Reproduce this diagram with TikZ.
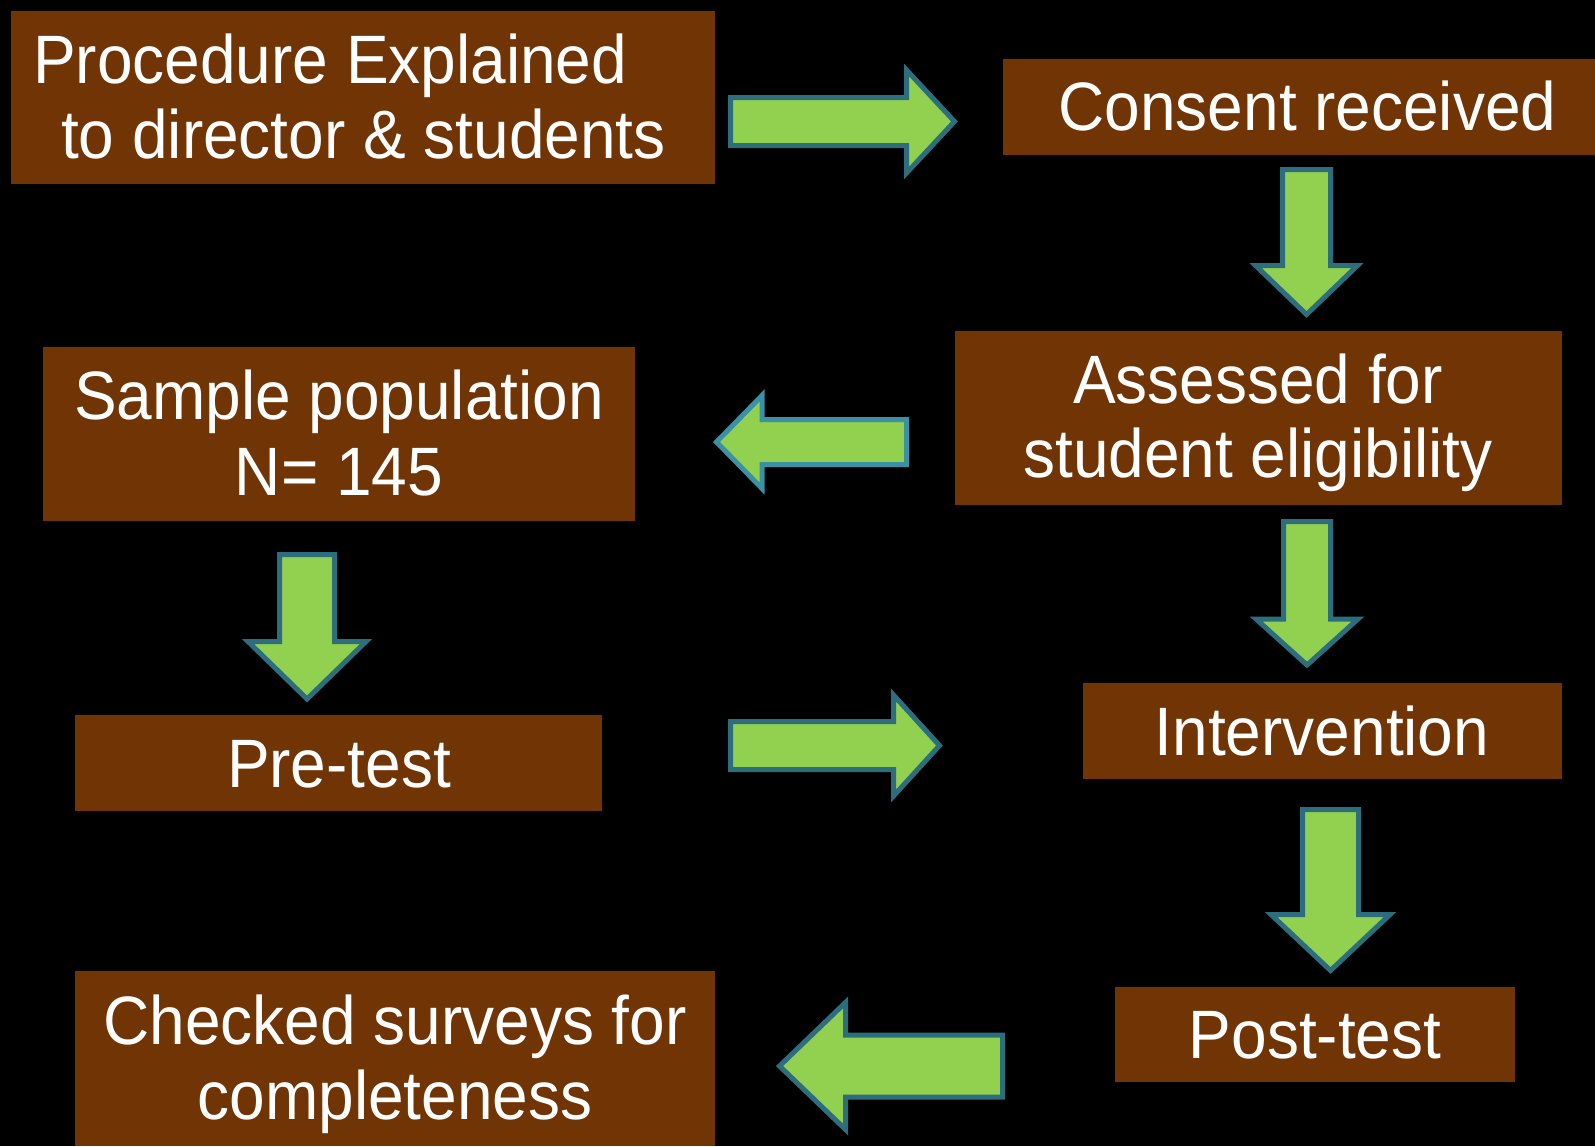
\documentclass[tikz,border=0pt]{standalone}
\usepackage{fontspec}
\setmainfont{Liberation Sans}
\newfontfamily\lblfont[FakeStretch=0.934]{Liberation Sans}
\definecolor{boxbrown}{HTML}{713405}
\definecolor{arrgreen}{HTML}{92D050}
\definecolor{arredge}{HTML}{2C6E7E}
\definecolor{arredgeb}{HTML}{3A90A4}
% horizontal block arrow: base x, centre y, shaft half, head base x, head half, tip x
\newcommand{\myHArrow}[7][arredge]{%
  \draw[blockarrow,draw=#1] (#2,#3-#4) -- (#5,#3-#4) -- (#5,#3-#6) -- (#7,#3)
    -- (#5,#3+#6) -- (#5,#3+#4) -- (#2,#3+#4) -- cycle;}
% vertical block arrow: centre x, top y, shaft half, head base y, head half, tip y
\newcommand{\myVArrow}[6]{%
  \draw[blockarrow] (#1-#3,#2) -- (#1-#3,#4) -- (#1-#5,#4) -- (#1,#6)
    -- (#1+#5,#4) -- (#1+#3,#4) -- (#1+#3,#2) -- cycle;}
\begin{document}
\begin{tikzpicture}[x=1pt,y=-1pt,
  box/.style={rectangle,fill=boxbrown,draw=none,inner sep=0pt,outer sep=0pt},
  lbl/.style={text=white,font=\lblfont\fontsize{68.5}{75}\selectfont,inner sep=0pt,anchor=base},
  blockarrow/.style={fill=arrgreen,draw=arredge,line width=5pt,line join=miter}]
\fill[black] (0,0) rectangle (1595,1146);
\useasboundingbox (0,0) rectangle (1595,1146);

% boxes
\node[box,minimum width=704pt,minimum height=173pt] (b1) at (363,97.5) {};
\node[box,minimum width=592pt,minimum height=96pt]  (b2) at (1299,107) {};
\node[box,minimum width=607pt,minimum height=174pt] (b3) at (1258.5,418) {};
\node[box,minimum width=592pt,minimum height=174pt] (b4) at (339,434) {};
\node[box,minimum width=527pt,minimum height=96pt]  (b5) at (338.5,763) {};
\node[box,minimum width=479pt,minimum height=96pt]  (b6) at (1322.5,731) {};
\node[box,minimum width=400pt,minimum height=95pt]  (b7) at (1315,1034.5) {};
\node[box,minimum width=640pt,minimum height=175pt] (b8) at (395,1058.5) {};

% texts
\node[lbl,anchor=base west] (t1a) at (33,83) {Procedure Explained};
\node[lbl,anchor=base west] (t1b) at (61,158) {to director \& students};
\node[lbl] (t2) at (1307.5,130) {Consent received};
\node[lbl] (t3a) at (1258,403) {Assessed for};
\node[lbl] (t3b) at (1258,477) {student eligibility};
\node[lbl] (t4a) at (339,419) {Sample population};
\node[lbl] (t4b) at (339,495) {N= 145};
\node[lbl] (t5) at (339,787) {Pre-test};
\node[lbl] (t6) at (1322,755) {Intervention};
\node[lbl] (t7) at (1315,1058) {Post-test};
\node[lbl] (t8a) at (395,1044) {Checked surveys for};
\node[lbl] (t8b) at (395,1119) {completeness};

% block arrows
\myHArrow{730.5}{121.5}{24}{906.5}{51.5}{954.5}
\myVArrow{1306.5}{169.5}{24}{265.5}{51}{314.5}
\myHArrow[arredgeb]{906.5}{442}{22.5}{762}{46.5}{716.5}
\myVArrow{307}{554.5}{27.5}{641.5}{59}{699}
\myVArrow{1307}{521.5}{23.5}{619}{51}{665}
\myHArrow{730.5}{745.5}{24}{893.5}{50.5}{939.5}
\myVArrow{1330.5}{809.5}{28}{914.5}{59.5}{970.5}
\myHArrow{1002.5}{1066}{31}{845.5}{63.5}{779.5}
\end{tikzpicture}
\end{document}
